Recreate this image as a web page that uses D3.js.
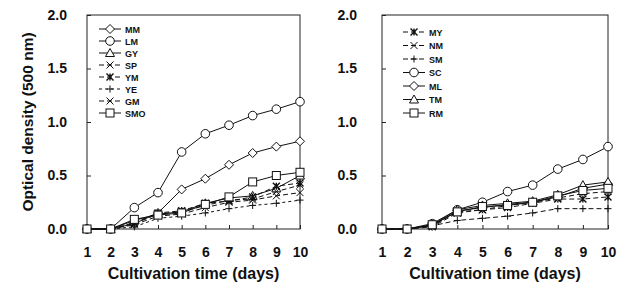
<!DOCTYPE html>
<html>
<head>
<meta charset="utf-8">
<script src="https://cdn.jsdelivr.net/npm/d3@7/dist/d3.min.js"></script>
<style>
  body { margin: 0; background: #fff; }
  svg { display: block; }
  text { font-family: "Liberation Sans", Arial, sans-serif; font-weight: bold; fill: #111; }
  .axis text { font-size: 14px; }
  .legend text { font-size: 9px; }
</style>
</head>
<body>
<svg id="chart" width="626" height="293"></svg>
<script>
// cultivation days
var days = [1, 2, 3, 4, 5, 6, 7, 8, 9, 10];
var yTicks = [0, 0.5, 1.0, 1.5, 2.0];

// left panel
var mm  = [0, 0, 0.05, 0.15, 0.37, 0.47, 0.60, 0.71, 0.77, 0.82];
var lm  = [0, 0, 0.20, 0.34, 0.72, 0.89, 0.97, 1.06, 1.12, 1.19];
var gy  = [0, 0, 0.08, 0.14, 0.16, 0.24, 0.29, 0.31, 0.38, 0.50];
var sp  = [0, 0, 0.05, 0.14, 0.16, 0.22, 0.27, 0.28, 0.35, 0.41];
var ym  = [0, 0, 0.06, 0.15, 0.17, 0.24, 0.26, 0.30, 0.40, 0.43];
var ye  = [0, 0, 0.02, 0.10, 0.12, 0.15, 0.19, 0.22, 0.24, 0.27];
var gm  = [0, 0, 0.04, 0.12, 0.14, 0.20, 0.25, 0.27, 0.31, 0.34];
var smo = [0, 0, 0.09, 0.13, 0.15, 0.23, 0.30, 0.44, 0.50, 0.53];

// right panel
var my = [0, 0, 0.02, 0.15, 0.18, 0.20, 0.24, 0.28, 0.28, 0.30];
var nm = [0, 0, 0.03, 0.16, 0.18, 0.22, 0.25, 0.29, 0.33, 0.35];
var sm = [0, 0, 0.03, 0.08, 0.10, 0.12, 0.15, 0.19, 0.19, 0.19];
var sc = [0, 0, 0.05, 0.18, 0.25, 0.35, 0.41, 0.56, 0.65, 0.77];
var ml = [0, 0, 0.03, 0.17, 0.20, 0.23, 0.25, 0.30, 0.38, 0.42];
var tm = [0, 0, 0.04, 0.18, 0.22, 0.24, 0.26, 0.32, 0.41, 0.44];
var rm = [0, 0, 0.04, 0.16, 0.21, 0.22, 0.25, 0.31, 0.36, 0.38];

var leftSeries = [
  { name: 'MM',  values: mm,  marker: 'diamond',  dash: null },
  { name: 'LM',  values: lm,  marker: 'circle',   dash: null },
  { name: 'GY',  values: gy,  marker: 'triangle', dash: null },
  { name: 'SP',  values: sp,  marker: 'cross',    dash: '5,3' },
  { name: 'YM',  values: ym,  marker: 'star',     dash: '5,3' },
  { name: 'YE',  values: ye,  marker: 'plus',     dash: '3,3' },
  { name: 'GM',  values: gm,  marker: 'cross',    dash: '5,3' },
  { name: 'SMO', values: smo, marker: 'square',   dash: null }
];
var rightSeries = [
  { name: 'MY', values: my, marker: 'star',     dash: '5,3' },
  { name: 'NM', values: nm, marker: 'cross',    dash: '5,3' },
  { name: 'SM', values: sm, marker: 'plus',     dash: '5,3' },
  { name: 'SC', values: sc, marker: 'circle',   dash: null },
  { name: 'ML', values: ml, marker: 'diamond',  dash: null },
  { name: 'TM', values: tm, marker: 'triangle', dash: null },
  { name: 'RM', values: rm, marker: 'square',   dash: null }
];

var svg = d3.select('#chart');

function drawMarker(g, type, x, y) {
  var m = g.append('g').attr('transform', 'translate(' + x + ',' + y + ')')
    .attr('fill', '#fff').attr('stroke', '#111').attr('stroke-width', 1);
  if (type === 'circle') m.append('circle').attr('r', 4.3);
  else if (type === 'square') m.append('rect').attr('x', -4).attr('y', -4).attr('width', 8).attr('height', 8);
  else if (type === 'diamond') m.append('path').attr('d', 'M0,-4.5L4.5,0L0,4.5L-4.5,0Z');
  else if (type === 'triangle') m.append('path').attr('d', 'M0,-4.5L4.5,3.5L-4.5,3.5Z');
  else if (type === 'cross') m.append('path').attr('d', 'M-3.5,-3.5L3.5,3.5M-3.5,3.5L3.5,-3.5');
  else if (type === 'plus') m.append('path').attr('d', 'M-3.5,0L3.5,0M0,-3.5L0,3.5');
  else if (type === 'star') m.append('path').attr('stroke-width', 1.4).attr('d', 'M-3.5,-3.5L3.5,3.5M-3.5,3.5L3.5,-3.5M0,-3.5L0,3.5');
}

function panel(opt) {
  var x = d3.scaleLinear().domain([1, 10]).range([opt.left, opt.right]);
  var y = d3.scaleLinear().domain([0, 2]).range([229, 15]);
  var g = svg.append('g');

  g.append('rect')
    .attr('x', opt.left).attr('y', 15)
    .attr('width', opt.right - opt.left).attr('height', 214)
    .attr('fill', 'none').attr('stroke', '#222').attr('stroke-width', 1);

  var xa = g.append('g').attr('class', 'axis')
    .attr('transform', 'translate(0,229)')
    .call(d3.axisBottom(x).tickValues(days).tickSize(-4).tickPadding(18).tickFormat(d3.format('d')));
  var ya = g.append('g').attr('class', 'axis')
    .attr('transform', 'translate(' + opt.left + ',0)')
    .call(d3.axisLeft(y).tickValues(yTicks).tickSize(-4).tickPadding(opt.yPad).tickFormat(d3.format('.1f')));
  [xa, ya].forEach(function (a) {
    a.select('.domain').remove();
    a.selectAll('line').attr('stroke', '#222');
    a.selectAll('text').attr('fill', '#111');
  });

  g.append('text')
    .attr('x', (opt.left + opt.right) / 2).attr('y', 279)
    .attr('text-anchor', 'middle').style('font-size', '16px')
    .text('Cultivation time (days)');

  var line = d3.line().x(function (d, i) { return x(days[i]); }).y(function (d) { return y(d); });

  opt.series.forEach(function (s) {
    g.append('path').datum(s.values)
      .attr('d', line).attr('fill', 'none').attr('stroke', '#111').attr('stroke-width', 1)
      .attr('stroke-dasharray', s.dash);
  });
  opt.series.forEach(function (s) {
    s.values.forEach(function (v, i) { drawMarker(g, s.marker, x(days[i]), y(v)); });
  });

  var lg = g.append('g').attr('class', 'legend');
  opt.series.forEach(function (s, i) {
    var ly = opt.legY + i * opt.legStep;
    lg.append('line')
      .attr('x1', opt.legX).attr('x2', opt.legX + 22).attr('y1', ly).attr('y2', ly)
      .attr('stroke', '#111').attr('stroke-dasharray', s.dash);
    drawMarker(lg, s.marker, opt.legX + 11, ly);
    lg.append('text').attr('x', opt.legX + 26).attr('y', ly + 3.5).text(s.name);
  });
}

panel({ left: 87, right: 300, yPad: 20, series: leftSeries, legX: 99, legY: 29, legStep: 12 });
panel({ left: 382, right: 608, yPad: 25, series: rightSeries, legX: 403, legY: 32, legStep: 13.5 });

svg.append('text')
  .attr('transform', 'translate(33,122) rotate(-90)')
  .attr('text-anchor', 'middle').style('font-size', '15.5px')
  .text('Optical density (500 nm)');
</script>
</body>
</html>
